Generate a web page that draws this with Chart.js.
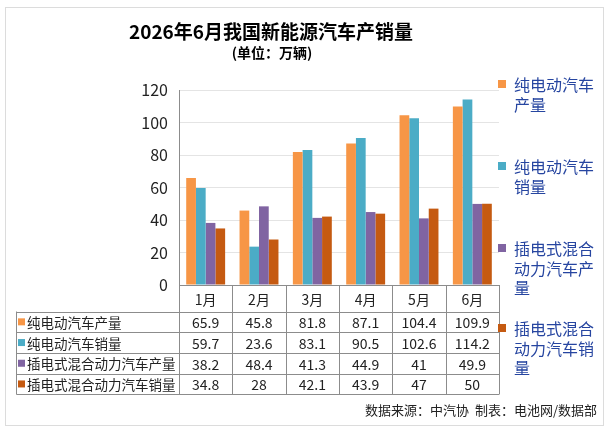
<!DOCTYPE html>
<html>
<head>
<meta charset="utf-8">
<script src="https://cdn.jsdelivr.net/npm/chart.js@4.4.1/dist/chart.umd.min.js"></script>
<style>
  html, body { margin: 0; padding: 0; background: #fff; }
  #wrap { width: 609px; height: 430px; }
</style>
</head>
<body>
<div id="wrap"><canvas id="canvas" width="609" height="430"></canvas></div>
<script>
// data
var months = ['1月', '2月', '3月', '4月', '5月', '6月'];
var bevProd = [65.9, 45.8, 81.8, 87.1, 104.4, 109.9];
var bevSales = [59.7, 23.6, 83.1, 90.5, 102.6, 114.2];
var phevProd = [38.2, 48.4, 41.3, 44.9, 41, 49.9];
var phevSales = [34.8, 28, 42.1, 43.9, 47, 50];
var seriesNames = ['纯电动汽车产量', '纯电动汽车销量', '插电式混合动力汽车产量', '插电式混合动力汽车销量'];
var legendLines = [
    ['纯电动汽车', '产量'],
    ['纯电动汽车', '销量'],
    ['插电式混合', '动力汽车产', '量'],
    ['插电式混合', '动力汽车销', '量']
];
var yMin = 0, yMax = 120, yStep = 20;

var titleText = '2026年6月我国新能源汽车产销量';
var subtitleText = '(单位：万辆)';
var footerText = '数据来源：中汽协  制表：电池网/数据部';

var colors = ['#F79646', '#4BACC6', '#8064A2', '#C55A11'];
var FONT = '"Noto Sans CJK SC", "Microsoft YaHei", sans-serif';

var allSeries = [bevProd, bevSales, phevProd, phevSales];

// draws background, frame, titles, data table and side legend
var ksDecor = {
    id: 'ksDecor',
    beforeDraw: function (chart) {
        var ctx = chart.ctx;
        ctx.save();
        ctx.fillStyle = '#fff';
        ctx.fillRect(0, 0, chart.width, chart.height);
        ctx.strokeStyle = '#dcdcdc';
        ctx.lineWidth = 1;
        ctx.strokeRect(5.5, 7.5, 598, 418);
        ctx.restore();
    },
    afterDraw: function (chart) {
        var ctx = chart.ctx;
        var area = chart.chartArea;
        var xs = chart.scales.x;
        var n = months.length;
        var cw = (area.right - area.left) / n;
        ctx.save();

        // titles
        ctx.fillStyle = '#000';
        ctx.textAlign = 'center';
        ctx.textBaseline = 'middle';
        ctx.font = 'bold 19px ' + FONT;
        ctx.fillText(titleText, 271, 32);
        ctx.font = 'bold 14px ' + FONT;
        ctx.fillText(subtitleText, 272, 53);

        // table grid
        var top = area.bottom;
        var headBottom = 311.5;
        var rowH = 20.7;
        var tableLeft = 16.5;
        var tableBottom = headBottom + rowH * 4;
        ctx.strokeStyle = '#8c8c8c';
        ctx.lineWidth = 1;
        ctx.beginPath();
        ctx.moveTo(area.left, Math.round(top) + 0.5);
        ctx.lineTo(area.right, Math.round(top) + 0.5);
        for (var r = 0; r <= 4; r++) {
            var yy = Math.round(headBottom + r * rowH) + 0.5;
            ctx.moveTo(tableLeft, yy);
            ctx.lineTo(area.right, yy);
        }
        ctx.moveTo(tableLeft, headBottom);
        ctx.lineTo(tableLeft, Math.round(tableBottom) + 0.5);
        for (var i = 0; i <= n; i++) {
            var xx = Math.round(area.left + i * cw) + 0.5;
            ctx.moveTo(xx, top);
            ctx.lineTo(xx, Math.round(tableBottom) + 0.5);
        }
        ctx.stroke();

        // header row (months) and values
        ctx.fillStyle = '#222';
        ctx.textAlign = 'center';
        ctx.font = '14px ' + FONT;
        for (var j = 0; j < n; j++) {
            var cx = xs.getPixelForValue(j);
            ctx.fillText(months[j], cx, (top + headBottom) / 2 + 1);
            for (var s = 0; s < allSeries.length; s++) {
                ctx.fillText(String(allSeries[s][j]), cx, headBottom + rowH * s + rowH / 2 + 1);
            }
        }

        // row labels with colour keys
        ctx.textAlign = 'left';
        ctx.font = '13.5px ' + FONT;
        for (var k = 0; k < seriesNames.length; k++) {
            var cy = headBottom + rowH * k + rowH / 2;
            ctx.fillStyle = colors[k];
            ctx.fillRect(18, cy - 3.5, 7, 7);
            ctx.fillStyle = '#222';
            ctx.fillText(seriesNames[k], 27, cy + 1);
        }

        // side legend
        var legendY = [84, 166, 248, 328];
        ctx.font = '16px ' + FONT;
        for (var m = 0; m < legendLines.length; m++) {
            ctx.fillStyle = colors[m];
            ctx.fillRect(498, legendY[m] - 4, 8, 8);
            ctx.fillStyle = '#2645a0';
            for (var l = 0; l < legendLines[m].length; l++) {
                ctx.fillText(legendLines[m][l], 514, legendY[m] + l * 19.5 + 1);
            }
        }

        // footer
        ctx.fillStyle = '#222';
        ctx.textAlign = 'right';
        ctx.font = '13px ' + FONT;
        ctx.fillText(footerText, 597, 410);
        ctx.restore();
    }
};

var datasets = [];
for (var d = 0; d < allSeries.length; d++) {
    datasets.push({
        label: seriesNames[d],
        data: allSeries[d],
        backgroundColor: colors[d],
        borderWidth: 0
    });
}

var ctx = document.getElementById('canvas').getContext('2d');
var myChart = new Chart(ctx, {
    type: 'bar',
    data: { labels: months, datasets: datasets },
    plugins: [ksDecor],
    options: {
        responsive: false,
        animation: false,
        layout: { padding: { top: 90, bottom: 145, left: 0, right: 110 } },
        datasets: { bar: { categoryPercentage: 0.73, barPercentage: 1.0 } },
        plugins: {
            legend: { display: false },
            title: { display: false },
            tooltip: { enabled: false }
        },
        scales: {
            x: {
                display: false
            },
            y: {
                min: yMin,
                max: yMax,
                afterFit: function (scale) { scale.width = 179; },
                ticks: {
                    stepSize: yStep,
                    padding: 11,
                    color: '#222',
                    font: { family: FONT, size: 16 }
                },
                grid: { color: '#e4e4e4', drawTicks: false },
                border: { display: true, color: '#8c8c8c' }
            }
        }
    }
});
</script>
</body>
</html>
